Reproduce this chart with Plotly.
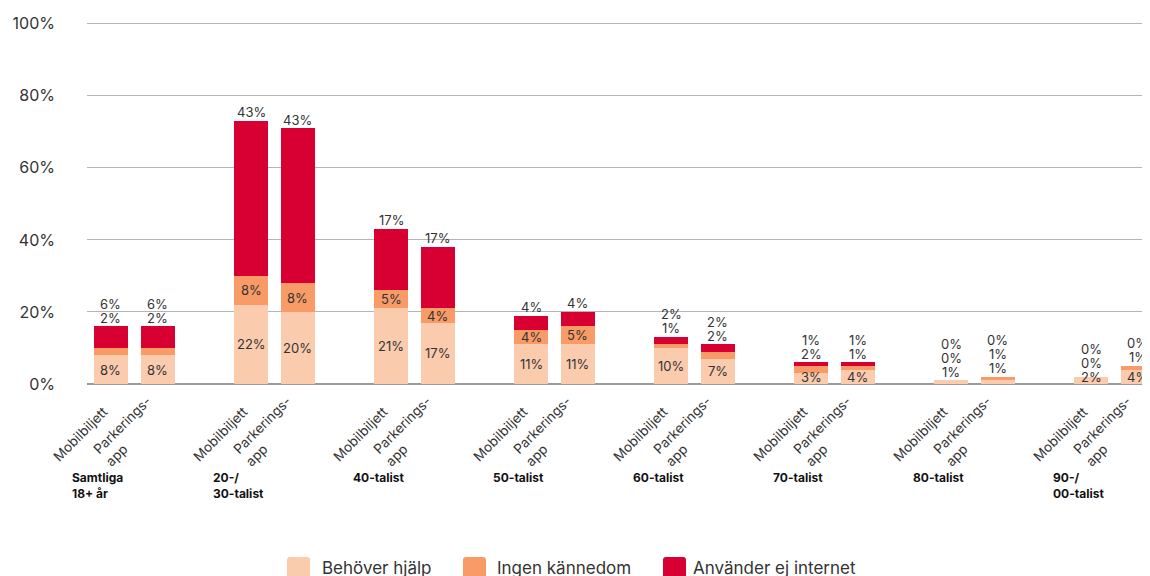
import plotly.graph_objects as go

# ---------------- data ----------------
groups = ["Samtliga<br>18+ år", "20-/<br>30-talist", "40-talist", "50-talist",
          "60-talist", "70-talist", "80-talist", "90-/<br>00-talist"]
products = ["Mobilbiljett", "Parkerings-<br>app"]
series_names = ["Behöver hjälp", "Ingen kännedom", "Använder ej internet"]
series_colors = ["#FBCBAE", "#F99B67", "#D80032"]

behover_mobil = [8, 22, 21, 11, 10, 3, 1, 2]
behover_park = [8, 20, 17, 11, 7, 4, 1, 4]
ingen_mobil = [2, 8, 5, 4, 1, 2, 0, 0]
ingen_park = [2, 8, 4, 5, 2, 1, 1, 1]
anvander_mobil = [6, 43, 17, 4, 2, 1, 0, 0]
anvander_park = [6, 43, 17, 4, 2, 1, 0, 0]

y_tickvals = [0, 20, 40, 60, 80, 100]
y_ticktext = ["0%", "20%", "40%", "60%", "80%", "100%"]

# --------------- layout constants ---------------
W, H = 1150, 576
YMAX = 100.5
ML, MR, MT, MB = 79, 0, 14, 200
PLOT_W = W - ML - MR
PLOT_H = H - MT - MB
PLOT_BOTTOM = MT + PLOT_H
PX = PLOT_H / YMAX          # pixels per percentage point
SLOT_PX = 46.67
X0 = -0.514
X1 = X0 + PLOT_W / SLOT_PX
FONT = "Inter"
TXT = "#333333"
LABEL_GAP = 8.7
LABEL_STEP = 14.0

mobil = [behover_mobil, ingen_mobil, anvander_mobil]
park = [behover_park, ingen_park, anvander_park]

# bar slot positions: 3 slots per group (mobil, park, gap)
xs, vals = [], []
for g in range(len(groups)):
    xs.append(3 * g)
    vals.append([s[g] for s in mobil])
    xs.append(3 * g + 1)
    vals.append([s[g] for s in park])

fig = go.Figure()
for s, name in enumerate(series_names):
    fig.add_trace(go.Bar(
        x=xs, y=[v[s] for v in vals], name=name,
        marker=dict(color=series_colors[s], line=dict(width=0)),
        width=0.73, showlegend=False, hoverinfo="skip"))

annotations = []
shapes = []
label_font = dict(family=FONT, size=13, color=TXT)
inside_min = [2, 3, 10 ** 9]  # red labels always sit above the bar
for x, v in zip(xs, vals):
    top = sum(v)
    base = 0
    last_inside = None
    above = []
    for s, val in enumerate(v):
        if val >= inside_min[s]:
            c = max((base + val / 2) * PX, 7.5)
            annotations.append(dict(x=x, y=c / PX, xref="x", yref="y", text=f"{val}%",
                                    showarrow=False, yanchor="middle", font=label_font,
                                    borderpad=0))
            last_inside = c
        else:
            above.append(val)
        base += val
    start = top * PX + LABEL_GAP
    if last_inside is not None:
        start = max(start, last_inside + 13.5)
    for i, val in enumerate(above):
        ypx = start + i * LABEL_STEP
        annotations.append(dict(x=x, y=ypx / PX, xref="x", yref="y", text=f"{val}%",
                                showarrow=False, yanchor="middle", font=label_font,
                                borderpad=0))

# rotated product labels and bold group labels
for g in range(len(groups)):
    for p, lab in enumerate(products):
        annotations.append(dict(
            x=3 * g + p, y=0, xref="x", yref="paper", text=lab, showarrow=False,
            textangle=-45, align="left", xanchor="center", yanchor="middle",
            xshift=-31 if p == 0 else -29, yshift=-49.5 if p == 0 else -47,
            font=dict(family=FONT, size=13.5, color=TXT)))
    annotations.append(dict(
        x=3 * g, y=0, xref="x", yref="paper", text=groups[g], showarrow=False,
        align="left", xanchor="center", yanchor="top", xshift=-13, yshift=-84,
        font=dict(family=FONT, size=12, color="#111111", weight=700)))


# --------------- manual legend (rounded squares + text) ---------------
def px_x(fx):
    return (fx - ML) / PLOT_W


def px_y(fy):
    return (PLOT_BOTTOM - fy) / PLOT_H


LEG_SQ_LEFT = [279, 455, 655]
LEG_TXT_LEFT = [312, 487, 683]
LEG_SQ = 23
LEG_TOP = 549
LEG_MID = 559.5
R = 3
for s, name in enumerate(series_names):
    x0, x1 = px_x(LEG_SQ_LEFT[s]), px_x(LEG_SQ_LEFT[s] + LEG_SQ)
    y1, y0 = px_y(LEG_TOP), px_y(LEG_TOP + LEG_SQ)
    rx, ry = R / PLOT_W, R / PLOT_H
    path = (f"M {x0+rx},{y0} L {x1-rx},{y0} Q {x1},{y0} {x1},{y0+ry} "
            f"L {x1},{y1-ry} Q {x1},{y1} {x1-rx},{y1} L {x0+rx},{y1} "
            f"Q {x0},{y1} {x0},{y1-ry} L {x0},{y0+ry} Q {x0},{y0} {x0+rx},{y0} Z")
    shapes.append(dict(type="path", path=path, xref="paper", yref="paper",
                       fillcolor=series_colors[s], line=dict(width=0), layer="above"))
    annotations.append(dict(x=px_x(LEG_TXT_LEFT[s]), y=px_y(LEG_MID), xref="paper",
                            yref="paper", text=name, showarrow=False,
                            xanchor="left", yanchor="middle",
                            font=dict(family=FONT, size=17, color=TXT)))

fig.update_layout(
    width=W, height=H,
    margin=dict(l=ML, r=MR, t=MT, b=MB, autoexpand=False),
    paper_bgcolor="white", plot_bgcolor="white",
    barmode="stack", bargap=0,
    font=dict(family=FONT, color=TXT),
    showlegend=False,
    xaxis=dict(range=[X0, X1], showticklabels=False, showgrid=False,
               zeroline=False, fixedrange=True, automargin=False),
    yaxis=dict(range=[0, YMAX], tickvals=y_tickvals, ticktext=y_ticktext,
               showgrid=True, gridcolor="#B4B4B4", gridwidth=1,
               zeroline=True, zerolinecolor="#9A9A9A", zerolinewidth=2,
               ticks="", ticklabelstandoff=31, automargin=False,
               tickfont=dict(family=FONT, size=16, color=TXT)),
    annotations=annotations,
    shapes=shapes,
    hovermode=False,
)

fig.write_html("out.html")
